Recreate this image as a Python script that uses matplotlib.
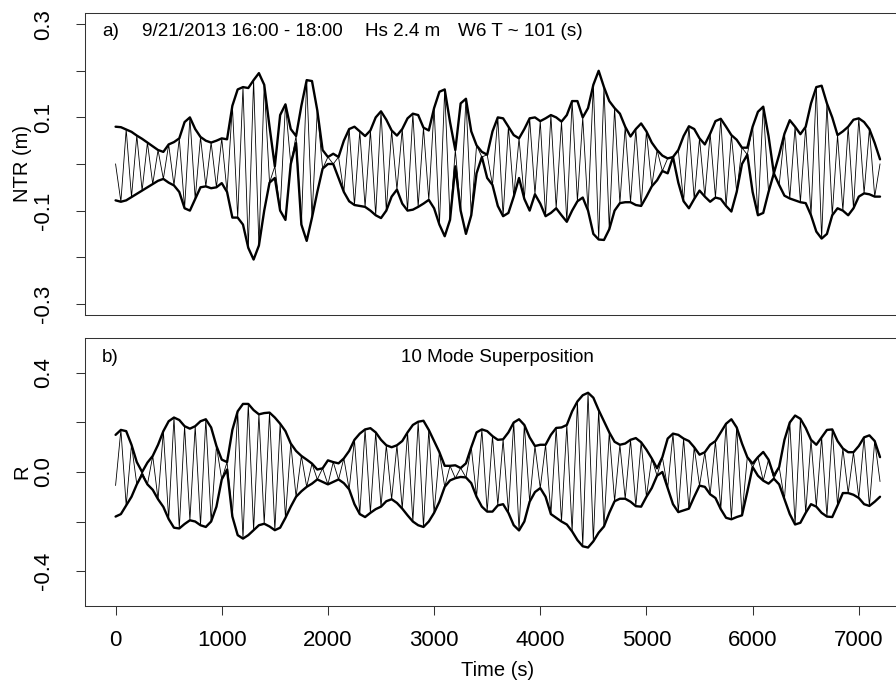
import numpy as np
import matplotlib
matplotlib.use("Agg")
import matplotlib.pyplot as plt

plt.rcParams["font.family"] = ["Liberation Sans", "DejaVu Sans"]

# time axis, 50 s between readings
time_s = np.arange(0, 7250, 50)

# panel a) NTR envelopes (m)
ntr_upper = [
    0.080, 0.079, 0.074, 0.069, 0.061, 0.054, 0.046, 0.038, 0.030, 0.026,
    0.042, 0.047, 0.055, 0.090, 0.100, 0.075, 0.058, 0.050, 0.046, 0.050,
    0.055, 0.053, 0.125, 0.160, 0.165, 0.163, 0.180, 0.195, 0.170, 0.080,
    -0.005, 0.105, 0.128, 0.075, 0.060, 0.125, 0.180, 0.178, 0.115, 0.030,
    0.015, 0.022, 0.015, 0.050, 0.075, 0.080, 0.070, 0.060, 0.072, 0.100,
    0.113, 0.095, 0.072, 0.061, 0.075, 0.098, 0.108, 0.105, 0.078, 0.072,
    0.120, 0.155, 0.160, 0.090, 0.030, 0.130, 0.140, 0.070, 0.040, 0.026,
    0.020, 0.070, 0.100, 0.098, 0.080, 0.062, 0.055, 0.075, 0.098, 0.100,
    0.092, 0.098, 0.105, 0.100, 0.091, 0.105, 0.135, 0.135, 0.100, 0.120,
    0.170, 0.200, 0.165, 0.135, 0.120, 0.108, 0.080, 0.059, 0.075, 0.087,
    0.070, 0.046, 0.030, 0.018, 0.012, 0.015, 0.030, 0.060, 0.081, 0.075,
    0.055, 0.042, 0.065, 0.092, 0.097, 0.080, 0.062, 0.052, 0.035, 0.035,
    0.080, 0.112, 0.123, 0.060, -0.020, 0.020, 0.065, 0.094, 0.080, 0.064,
    0.080, 0.130, 0.165, 0.168, 0.130, 0.100, 0.062, 0.070, 0.080, 0.095,
    0.098, 0.090, 0.075, 0.045, 0.010,
]
ntr_lower = [
    -0.078, -0.081, -0.078, -0.071, -0.064, -0.057, -0.050, -0.043, -0.036, -0.032,
    -0.040, -0.046, -0.060, -0.095, -0.100, -0.075, -0.050, -0.048, -0.052, -0.050,
    -0.041, -0.060, -0.115, -0.115, -0.130, -0.180, -0.205, -0.175, -0.100, -0.040,
    -0.030, -0.100, -0.120, 0.000, 0.045, -0.130, -0.165, -0.115, -0.060, -0.010,
    0.000, 0.000, -0.030, -0.060, -0.080, -0.088, -0.090, -0.092, -0.100, -0.110,
    -0.116, -0.100, -0.070, -0.055, -0.085, -0.100, -0.098, -0.092, -0.085, -0.077,
    -0.095, -0.130, -0.155, -0.120, -0.005, -0.100, -0.150, -0.110, -0.020, 0.015,
    -0.030, -0.045, -0.090, -0.112, -0.105, -0.070, -0.030, -0.075, -0.100, -0.065,
    -0.085, -0.112, -0.105, -0.095, -0.110, -0.124, -0.100, -0.080, -0.072, -0.100,
    -0.150, -0.162, -0.163, -0.140, -0.100, -0.084, -0.082, -0.082, -0.088, -0.090,
    -0.070, -0.048, -0.035, -0.015, -0.020, 0.015, -0.040, -0.080, -0.095, -0.075,
    -0.057, -0.070, -0.081, -0.072, -0.075, -0.090, -0.102, -0.060, 0.000, 0.020,
    -0.060, -0.110, -0.105, -0.060, -0.020, -0.045, -0.068, -0.074, -0.078, -0.082,
    -0.084, -0.110, -0.145, -0.160, -0.150, -0.110, -0.095, -0.100, -0.110, -0.095,
    -0.070, -0.063, -0.065, -0.070, -0.070,
]
ntr_start, ntr_end = 0.0, 0.0

# panel b) 10 mode superposition envelopes
r_upper = [
    0.150, 0.170, 0.165, 0.110, 0.040, 0.000, 0.038, 0.065, 0.110, 0.165,
    0.205, 0.220, 0.210, 0.185, 0.175, 0.185, 0.205, 0.213, 0.180, 0.105,
    0.050, 0.040, 0.170, 0.245, 0.275, 0.275, 0.250, 0.233, 0.238, 0.240,
    0.220, 0.195, 0.165, 0.115, 0.085, 0.065, 0.050, 0.034, 0.010, 0.015,
    0.047, 0.040, 0.035, 0.055, 0.085, 0.130, 0.155, 0.172, 0.177, 0.160,
    0.130, 0.108, 0.100, 0.108, 0.125, 0.160, 0.190, 0.203, 0.207, 0.170,
    0.125, 0.080, 0.025, 0.025, 0.027, 0.016, 0.035, 0.100, 0.160, 0.172,
    0.165, 0.145, 0.130, 0.132, 0.160, 0.200, 0.213, 0.190, 0.140, 0.105,
    0.110, 0.110, 0.150, 0.178, 0.180, 0.190, 0.245, 0.285, 0.310, 0.320,
    0.300, 0.250, 0.205, 0.160, 0.122, 0.110, 0.115, 0.130, 0.137, 0.120,
    0.090, 0.055, 0.015, 0.060, 0.135, 0.155, 0.150, 0.135, 0.125, 0.100,
    0.070, 0.080, 0.110, 0.125, 0.160, 0.195, 0.213, 0.180, 0.115, 0.060,
    0.034, 0.060, 0.081, 0.050, -0.015, 0.020, 0.130, 0.200, 0.228, 0.215,
    0.178, 0.130, 0.110, 0.140, 0.170, 0.172, 0.125, 0.095, 0.080, 0.080,
    0.105, 0.140, 0.148, 0.125, 0.060,
]
r_lower = [
    -0.180, -0.170, -0.135, -0.100, -0.050, -0.010, -0.050, -0.072, -0.110, -0.141,
    -0.190, -0.225, -0.228, -0.210, -0.195, -0.200, -0.215, -0.222, -0.200, -0.140,
    -0.030, 0.010, -0.180, -0.255, -0.269, -0.255, -0.235, -0.215, -0.209, -0.220,
    -0.235, -0.225, -0.185, -0.140, -0.100, -0.078, -0.060, -0.047, -0.030, -0.040,
    -0.050, -0.040, -0.030, -0.045, -0.070, -0.130, -0.170, -0.182, -0.165, -0.150,
    -0.140, -0.118, -0.110, -0.125, -0.148, -0.175, -0.200, -0.215, -0.222, -0.200,
    -0.165, -0.120, -0.060, -0.034, -0.025, -0.020, -0.022, -0.045, -0.100, -0.140,
    -0.160, -0.160, -0.135, -0.130, -0.165, -0.215, -0.236, -0.200, -0.120, -0.081,
    -0.065, -0.100, -0.170, -0.185, -0.200, -0.212, -0.240, -0.275, -0.300, -0.305,
    -0.280, -0.245, -0.220, -0.165, -0.118, -0.108, -0.108, -0.120, -0.138, -0.140,
    -0.100, -0.065, -0.015, 0.000, -0.065, -0.130, -0.162, -0.155, -0.148, -0.100,
    -0.055, -0.060, -0.090, -0.105, -0.150, -0.185, -0.191, -0.182, -0.175, -0.080,
    0.020, -0.015, -0.035, -0.047, -0.027, -0.050, -0.110, -0.170, -0.212, -0.205,
    -0.165, -0.130, -0.140, -0.165, -0.180, -0.182, -0.135, -0.085, -0.085, -0.092,
    -0.105, -0.130, -0.137, -0.120, -0.100,
]
r_start, r_end = -0.054, -0.038

x_ticks = [0, 1000, 2000, 3000, 4000, 5000, 6000, 7000]
ntr_ticks = [-0.3, -0.2, -0.1, 0.0, 0.1, 0.2, 0.3]
ntr_ticklabels = ["-0.3", "", "-0.1", "", "0.1", "", "0.3"]
r_ticks = [-0.4, -0.2, 0.0, 0.2, 0.4]
r_ticklabels = ["-0.4", "", "0.0", "", "0.4"]


def carrier(upper, lower, first_up, start, end):
    # thin oscillation swings between the two envelopes
    up = np.asarray(upper)
    lo = np.asarray(lower)
    idx = np.arange(len(up))
    use_up = (idx % 2 == 0) if first_up else (idx % 2 == 1)
    y = np.where(use_up, up, lo)
    y[0] = start
    y[-1] = end
    return y


W, H = 896, 681
fig = plt.figure(figsize=(W / 100, H / 100), dpi=100)
left, right = 85, 910.6
ax1 = fig.add_axes([left / W, (H - 315) / H, (right - left) / W, 302 / H])
ax2 = fig.add_axes([left / W, (H - 605.7) / H, (right - left) / W, 267.4 / H])

panels = [
    (ax1, ntr_upper, ntr_lower, True, ntr_start, ntr_end, 0.324, ntr_ticks, ntr_ticklabels),
    (ax2, r_upper, r_lower, False, r_start, r_end, 0.54, r_ticks, r_ticklabels),
]
for ax, up, lo, first_up, s, e, ylim, yt, ytl in panels:
    ax.plot(time_s, carrier(up, lo, first_up, s, e), color="black", lw=0.6,
            solid_joinstyle="round")
    ax.plot(time_s, up, color="black", lw=1.7, solid_joinstyle="round",
            solid_capstyle="round")
    ax.plot(time_s, lo, color="black", lw=1.7, solid_joinstyle="round",
            solid_capstyle="round")
    ax.set_xlim(-288, 7488)
    ax.set_ylim(-ylim, ylim)
    ax.set_yticks(yt)
    ax.set_yticklabels(ytl, rotation=90, va="center")
    ax.tick_params(axis="both", direction="out", length=6.5, width=0.75,
                   labelsize=16, color="#333333")
    ax.tick_params(axis="y", pad=16)
    for sp in ax.spines.values():
        sp.set_linewidth(0.75)
        sp.set_color("#333333")

ax1.set_xticks([])
ax2.set_xticks(x_ticks)
ax2.set_xticklabels([str(v) for v in x_ticks])
ax2.tick_params(axis="x", pad=11)

txt = dict(fontsize=13.6, va="baseline", color="black")
ax1.text(-129, 0.274, "a)", **txt)
ax1.text(245, 0.274, "9/21/2013 16:00 - 18:00", **txt)
ax1.text(2349, 0.274, "Hs 2.4 m", **txt)
ax1.text(3228, 0.274, "W6 T ~ 101 (s)", **txt)
ax2.text(-129, 0.444, "b)", **txt)
ax2.text(3600, 0.444, "10 Mode Superposition", ha="center", fontsize=13.6, va="baseline")

fig.text(27.5 / W, (H - 164) / H, "NTR (m)", rotation=90, rotation_mode="anchor",
         ha="center", va="baseline", fontsize=14.5)
fig.text(27.5 / W, (H - 471.7) / H, "R", rotation=90, rotation_mode="anchor",
         ha="center", va="baseline", fontsize=14.5)
fig.text(497.8 / W, (H - 676.5) / H, "Time (s)", ha="center", va="baseline", fontsize=14.5)

fig.savefig("out.png", dpi=100)
